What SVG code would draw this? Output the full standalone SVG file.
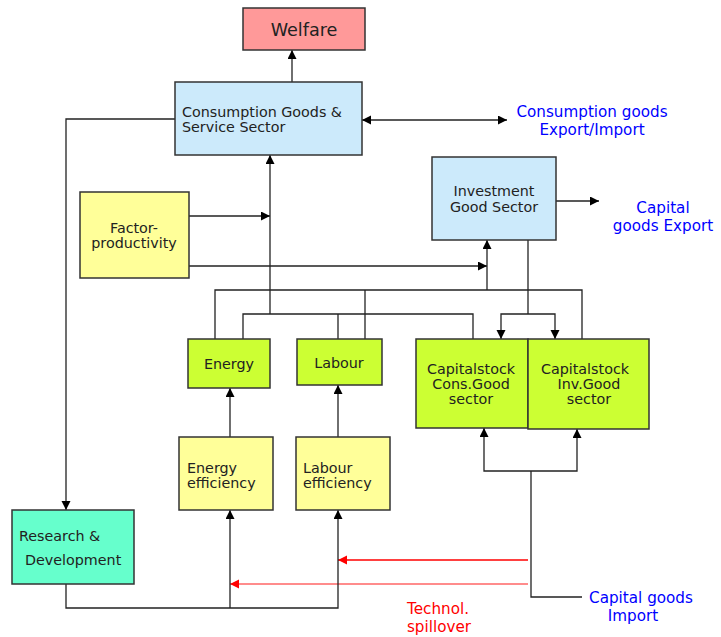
<svg xmlns="http://www.w3.org/2000/svg" width="721" height="637" viewBox="0 0 721 637">
<defs>
<marker id="ah" markerUnits="userSpaceOnUse" markerWidth="10" markerHeight="10" refX="9" refY="4.5" orient="auto-start-reverse"><path d="M0,0 L9,4.5 L0,9 z" fill="#000"/></marker>
<marker id="ahr" markerUnits="userSpaceOnUse" markerWidth="10" markerHeight="10" refX="9" refY="4.5" orient="auto"><path d="M0,0 L9,4.5 L0,9 z" fill="#ff0000"/></marker>
<style>
.box{stroke:#333;stroke-width:1.5}
.t{font-family:"DejaVu Sans",Verdana,sans-serif;font-size:14.3px;fill:#222}
.b{font-family:"DejaVu Sans",Verdana,sans-serif;font-size:15.2px;fill:#0000ff}
.r{font-family:"DejaVu Sans",Verdana,sans-serif;font-size:15.2px;fill:#ff0000}
.c{fill:none;stroke:#222;stroke-width:1.3}
.a{marker-end:url(#ah)}
.red{fill:none;stroke:#ff0000;stroke-width:1.3;marker-end:url(#ahr)}
</style>
</defs>
<rect width="721" height="637" fill="#fff"/>
<g id="connectors">
<path class="c a" d="M292,82 V50"/>
<path class="c a" d="M362,120 H507" marker-start="url(#ah)"/>
<path class="c a" d="M175,119 H66 V510"/>
<path class="c a" d="M189,216 H270"/>
<path class="c a" d="M189,266 H487"/>
<path class="c a" d="M270,314 V155"/>
<path class="c" d="M243,339 V314 H473 V339"/>
<path class="c" d="M338,339 V314"/>
<path class="c" d="M215,339 V290 H582 V339"/>
<path class="c" d="M365,339 V290"/>
<path class="c a" d="M487,290 V240"/>
<path class="c a" d="M556,201 H599"/>
<path class="c" d="M528,240 V314"/>
<path class="c a" d="M528,314 H501 V339"/>
<path class="c a" d="M528,314 H555 V339"/>
<path class="c" d="M582,597 H531 V471"/>
<path class="c a" d="M531,471 H484 V428"/>
<path class="c a" d="M531,471 H577 V429"/>
<path class="red" d="M528,560 H338"/>
<path class="red" d="M528,584 H230" style="stroke:#ff6666"/>
<path class="c a" d="M66,584 V608 H338 V510"/>
<path class="c a" d="M230,608 V510"/>
<path class="c a" d="M230,437 V388"/>
<path class="c a" d="M338,437 V385"/>
</g>
<g id="welfare">
<rect class="box" x="243" y="8" width="122" height="42" fill="#ff9999"/>
<text class="t" x="304" y="36" text-anchor="middle" style="font-size:17.6px">Welfare</text>
</g>
<g id="consumption">
<rect class="box" x="175" y="82" width="187" height="73" fill="#cceafb"/>
<text class="t" x="182" y="117">Consumption Goods &amp;</text>
<text class="t" x="182" y="132">Service Sector</text>
</g>
<g id="cons-export">
<text class="b" x="592" y="116.5" text-anchor="middle">Consumption goods</text>
<text class="b" x="592" y="134.5" text-anchor="middle">Export/Import</text>
</g>
<g id="investment">
<rect class="box" x="432" y="157" width="124" height="83" fill="#cceafb"/>
<text class="t" x="494" y="196" text-anchor="middle">Investment</text>
<text class="t" x="494" y="212" text-anchor="middle">Good Sector</text>
</g>
<g id="cap-export">
<text class="b" x="663" y="212.5" text-anchor="middle">Capital</text>
<text class="b" x="663" y="230.5" text-anchor="middle">goods Export</text>
</g>
<g id="factor">
<rect class="box" x="80" y="192" width="109" height="86" fill="#ffff99"/>
<text class="t" x="134" y="233" text-anchor="middle">Factor-</text>
<text class="t" x="134" y="248" text-anchor="middle">productivity</text>
</g>
<g id="energy">
<rect class="box" x="188" y="339" width="82" height="49" fill="#ccff33"/>
<text class="t" x="229" y="369" text-anchor="middle">Energy</text>
</g>
<g id="labour">
<rect class="box" x="297" y="339" width="85" height="46" fill="#ccff33"/>
<text class="t" x="339" y="368" text-anchor="middle">Labour</text>
</g>
<g id="capstock-cons">
<rect class="box" x="416" y="339" width="112" height="89" fill="#ccff33"/>
<text class="t" x="471" y="374" text-anchor="middle">Capitalstock</text>
<text class="t" x="471" y="389" text-anchor="middle">Cons.Good</text>
<text class="t" x="471" y="404" text-anchor="middle">sector</text>
</g>
<g id="capstock-inv">
<rect class="box" x="528" y="339" width="121" height="90" fill="#ccff33"/>
<text class="t" x="585" y="374" text-anchor="middle">Capitalstock</text>
<text class="t" x="589" y="389" text-anchor="middle">Inv.Good</text>
<text class="t" x="589" y="404" text-anchor="middle">sector</text>
</g>
<g id="energy-eff">
<rect class="box" x="179" y="437" width="94" height="73" fill="#ffff99"/>
<text class="t" x="187" y="473">Energy</text>
<text class="t" x="187" y="488">efficiency</text>
</g>
<g id="labour-eff">
<rect class="box" x="296" y="437" width="94" height="73" fill="#ffff99"/>
<text class="t" x="303" y="473">Labour</text>
<text class="t" x="303" y="488">efficiency</text>
</g>
<g id="rnd">
<rect class="box" x="12" y="510" width="122" height="74" fill="#66ffcc"/>
<text class="t" x="19" y="541">Research &amp;</text>
<text class="t" x="25" y="565">Development</text>
</g>
<g id="spillover">
<text class="r" x="438" y="614" text-anchor="middle">Technol.</text>
<text class="r" x="439" y="632" text-anchor="middle">spillover</text>
</g>
<g id="cap-import">
<text class="b" x="641" y="602.5" text-anchor="middle">Capital goods</text>
<text class="b" x="633" y="620.5" text-anchor="middle">Import</text>
</g>
</svg>
